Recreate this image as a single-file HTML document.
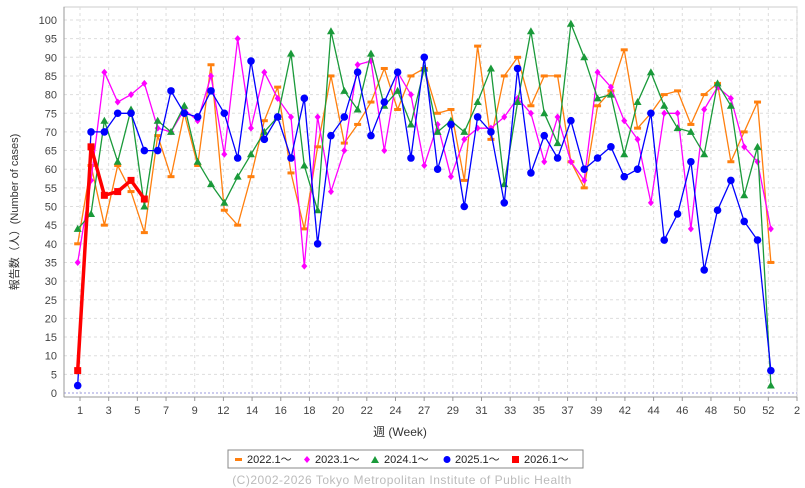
<!DOCTYPE html>
<html><head><meta charset="utf-8"><style>
body{margin:0;background:#fff;}
svg{display:block;font-family:"Liberation Sans","Noto Sans CJK JP",sans-serif;}
</style></head><body>
<svg id="c" width="805" height="488" viewBox="0 0 805 488" xmlns="http://www.w3.org/2000/svg">
<rect x="0" y="0" width="805" height="488" fill="#fff"/>
<rect x="64" y="7" width="733" height="390" fill="#fff" stroke="#ccc" stroke-width="1"/>
<g id="grid"></g>
<line x1="64" y1="393" x2="797" y2="393" stroke="#9999dd" stroke-dasharray="2,2"/>
<line x1="64" y1="7" x2="64" y2="397" stroke="#999"/>
<line x1="64" y1="397" x2="797" y2="397" stroke="#999"/>
<g id="ticks" font-size="11" fill="#444"></g>
<g id="series"></g>
<text x="400" y="436" font-size="12" text-anchor="middle" fill="#333">週 (Week)</text>
<text transform="translate(18,212) rotate(-90)" font-size="11" text-anchor="middle" fill="#333">報告数（人）(Number of cases)</text>
<rect x="228" y="450" width="355" height="18" fill="#fff" stroke="#888"/>
<g font-size="11" fill="#222">
<rect x="235" y="458" width="7" height="3" fill="#ff7f0e"/><text x="247" y="463">2022.1〜</text>
<path d="M307 456 L310 459.5 L307 463 L304 459.5Z" fill="#ff00ff"/><text x="315" y="463">2023.1〜</text>
<path d="M375 456 L379 463 L371 463Z" fill="#1a9a3a"/><text x="384" y="463">2024.1〜</text>
<circle cx="447" cy="459.5" r="3.5" fill="#0000ff"/><text x="455" y="463">2025.1〜</text>
<rect x="512" y="456" width="7" height="7" fill="#ff0000"/><text x="524" y="463">2026.1〜</text>
</g>
<text x="402" y="484" font-size="12" text-anchor="middle" fill="#bbb" letter-spacing="0.5">(C)2002-2026 Tokyo Metropolitan Institute of Public Health</text>
</svg>
<script>
var NS="http://www.w3.org/2000/svg";
function el(p,t,a,txt){var e=document.createElementNS(NS,t);for(var k in a)e.setAttribute(k,a[k]);if(txt!==undefined)e.textContent=txt;p.appendChild(e);return e;}
var Y=function(v){return 393-3.73*v;}, X=function(i){return 77.7+13.33*i;};
var g=document.getElementById('grid'),tk=document.getElementById('ticks');
for(var v=5;v<=100;v+=5){el(g,'line',{x1:64,x2:797,y1:Y(v),y2:Y(v),stroke:'#ddd','stroke-dasharray':'3,3'});}
for(var v=0;v<=100;v+=5){el(tk,'text',{x:57,y:Y(v)+4,'text-anchor':'end'},String(v));}
var lab=[1,3,5,7,9,12,14,16,18,20,22,24,27,29,31,33,35,37,39,42,44,46,48,50,52,2];
for(var j=0;j<lab.length;j++){var x=80+28.68*j;el(g,'line',{x1:x,x2:x,y1:7,y2:397,stroke:'#ddd','stroke-dasharray':'3,3'});el(tk,'line',{x1:x,x2:x,y1:397,y2:401,stroke:'#999'});el(tk,'text',{x:x,y:414,'text-anchor':'middle'},String(lab[j]));}
var S=[
{c:'#ff7f0e',m:'r',d:[40,61,45,61,54,43,69,58,75,61,88,49,45,58,73,82,59,44,66,85,67,72,78,87,76,85,87,75,76,57,93,68,85,90,77,85,85,62,55,77,81,92,71,75,80,81,72,80,83,62,70,78,35]},
{c:'#ff00ff',m:'d',d:[35,57,86,78,80,83,71,70,76,73,85,64,95,71,86,79,74,34,74,54,65,88,89,65,86,80,61,72,58,68,71,71,74,79,75,62,74,62,57,86,82,73,68,51,75,75,44,76,82,79,66,62,44]},
{c:'#1a9a3a',m:'t',d:[44,48,73,62,76,50,73,70,77,62,56,51,58,64,70,74,91,61,49,97,81,76,91,77,81,72,87,70,73,70,78,87,56,78,97,75,67,99,90,79,80,64,78,86,77,71,70,64,83,77,53,66,2]},
{c:'#0000ff',m:'c',d:[2,70,70,75,75,65,65,81,75,74,81,75,63,89,68,74,63,79,40,69,74,86,69,78,86,63,90,60,72,50,74,70,51,87,59,69,63,73,60,63,66,58,60,75,41,48,62,33,49,57,46,41,6]},
{c:'#ff0000',m:'s',w:3.5,d:[6,66,53,54,57,52]}];
var sg=document.getElementById('series');
S.forEach(function(s){var pts=s.d.map(function(v,i){return X(i).toFixed(1)+','+Y(v).toFixed(1);}).join(' ');
el(sg,'polyline',{points:pts,fill:'none',stroke:s.c,'stroke-width':s.w||1.3,'stroke-linejoin':'round'});
s.d.forEach(function(v,i){var x=X(i),y=Y(v);
if(s.m=='r')el(sg,'rect',{x:x-3.5,y:y-1.5,width:7,height:3,fill:s.c});
else if(s.m=='d')el(sg,'path',{d:'M'+x+' '+(y-3.5)+'L'+(x+3)+' '+y+'L'+x+' '+(y+3.5)+'L'+(x-3)+' '+y+'Z',fill:s.c});
else if(s.m=='t')el(sg,'path',{d:'M'+x+' '+(y-4)+'L'+(x+4)+' '+(y+3)+'L'+(x-4)+' '+(y+3)+'Z',fill:s.c});
else if(s.m=='c')el(sg,'circle',{cx:x,cy:y,r:3.8,fill:s.c});
else el(sg,'rect',{x:x-3.5,y:y-3.5,width:7,height:7,fill:s.c});});});
</script>
</body></html>
